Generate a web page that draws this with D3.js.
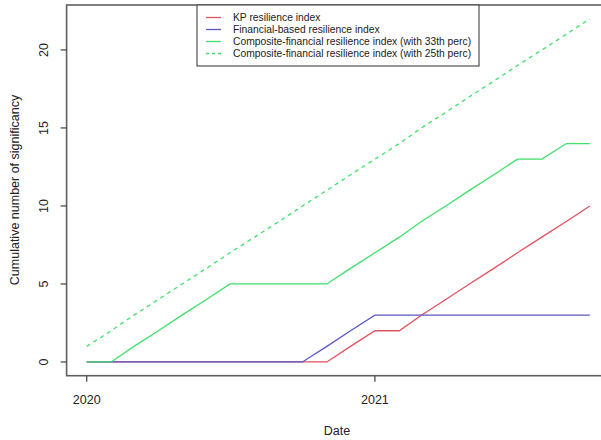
<!DOCTYPE html>
<html>
<head>
<meta charset="utf-8">
<script src="https://cdn.jsdelivr.net/npm/d3@7"></script>
<style>
  html, body { margin: 0; padding: 0; background: #fff; }
  svg { display: block; font-family: "Liberation Sans", Arial, sans-serif; }
</style>
</head>
<body>
<svg id="chart" width="601" height="440"></svg>
<script>
// ---- data ----
const months = ["2020-01","2020-02","2020-03","2020-04","2020-05","2020-06","2020-07","2020-08","2020-09","2020-10","2020-11","2020-12",
                "2021-01","2021-02","2021-03","2021-04","2021-05","2021-06","2021-07","2021-08","2021-09","2021-10"];
const kpIndex      = [0,0,0,0,0,0,0,0,0,0,0,1,2,2,3,4,5,6,7,8,9,10];
const financialIdx = [0,0,0,0,0,0,0,0,0,0,1,2,3,3,3,3,3,3,3,3,3,3];
const composite33  = [0,0,1,2,3,4,5,5,5,5,5,6,7,8,9,10,11,12,13,13,14,14];
const composite25  = [1,2,3,4,5,6,7,8,9,10,11,12,13,14,15,16,17,18,19,20,21,22];
const yTicks = [0,5,10,15,20];
const xTickLabels = ["2020","2021"];
const legendLabels = ["KP resilience index","Financial-based resilience index",
  "Composite-financial resilience index (with 33th perc)","Composite-financial resilience index (with 25th perc)"];

const colors = ["#E0525E","#5A5AC6","#3FE06C","#3FE06C"];
const dashes = [null,null,null,"4,4"];

const parse = d3.timeParse("%Y-%m");
const dates = months.map(parse);

const svg = d3.select("#chart");
const pLeft = 66.6, pRight = 610, pTop = 5, pBottom = 375.7;

const t0 = dates[0].getTime(), t1 = dates[dates.length-1].getTime();
const pad = (t1 - t0) * 0.04;
const x = d3.scaleTime().domain([new Date(t0 - pad), new Date(t1 + pad)]).range([pLeft, pRight]);
const y = d3.scaleLinear().domain([-0.88, 22.88]).range([pBottom, pTop]);

const series = [kpIndex, financialIdx, composite33, composite25];
const line = d3.line().x((d,i) => x(dates[i])).y(d => y(d));

series.forEach((s, k) => {
  svg.append("path")
    .attr("d", line(s))
    .attr("fill", "none")
    .attr("stroke", colors[k])
    .attr("stroke-width", 1.3)
    .attr("stroke-dasharray", dashes[k]);
});

// frame
svg.append("rect")
  .attr("x", pLeft).attr("y", pTop)
  .attr("width", pRight - pLeft).attr("height", pBottom - pTop)
  .attr("fill", "none").attr("stroke", "#606060").attr("stroke-width", 1.6);

// y axis
const yAxis = svg.append("g");
yTicks.forEach(v => {
  yAxis.append("line").attr("x1", pLeft).attr("x2", pLeft - 6)
    .attr("y1", y(v)).attr("y2", y(v)).attr("stroke", "#404040").attr("stroke-width", 1.2);
  yAxis.append("text")
    .attr("transform", `translate(48,${y(v)}) rotate(-90)`)
    .attr("text-anchor", "middle")
    .attr("font-size", 12.5).attr("fill", "#222")
    .text(v);
});

// x axis
const xTickDates = xTickLabels.map(s => d3.timeParse("%Y")(s));
xTickDates.forEach((d, i) => {
  svg.append("line").attr("x1", x(d)).attr("x2", x(d))
    .attr("y1", pBottom).attr("y2", pBottom + 6)
    .attr("stroke", "#404040").attr("stroke-width", 1.2);
  svg.append("text").attr("x", x(d)).attr("y", 404)
    .attr("text-anchor", "middle").attr("font-size", 12.5).attr("fill", "#222")
    .text(xTickLabels[i]);
});

// axis titles
svg.append("text").attr("x", 337).attr("y", 435)
  .attr("text-anchor", "middle").attr("font-size", 12.5).attr("fill", "#222").text("Date");
svg.append("text").attr("transform", "translate(19,190) rotate(-90)")
  .attr("text-anchor", "middle").attr("font-size", 12.5).attr("fill", "#222")
  .text("Cumulative number of significancy");

// legend
const lg = svg.append("g");
lg.append("rect").attr("x", 197).attr("y", pTop).attr("width", 282).attr("height", 61)
  .attr("fill", "#fff").attr("stroke", "#505050").attr("stroke-width", 1.2);
legendLabels.forEach((lab, k) => {
  const yy = 17.5 + k * 12;
  lg.append("line").attr("x1", 206).attr("x2", 221).attr("y1", yy).attr("y2", yy)
    .attr("stroke", colors[k]).attr("stroke-width", 1.3).attr("stroke-dasharray", dashes[k] ? "3,3" : null);
  lg.append("text").attr("x", 233).attr("y", yy + 3.6)
    .attr("font-size", 10.3).attr("fill", "#222").text(lab);
});
</script>
</body>
</html>
